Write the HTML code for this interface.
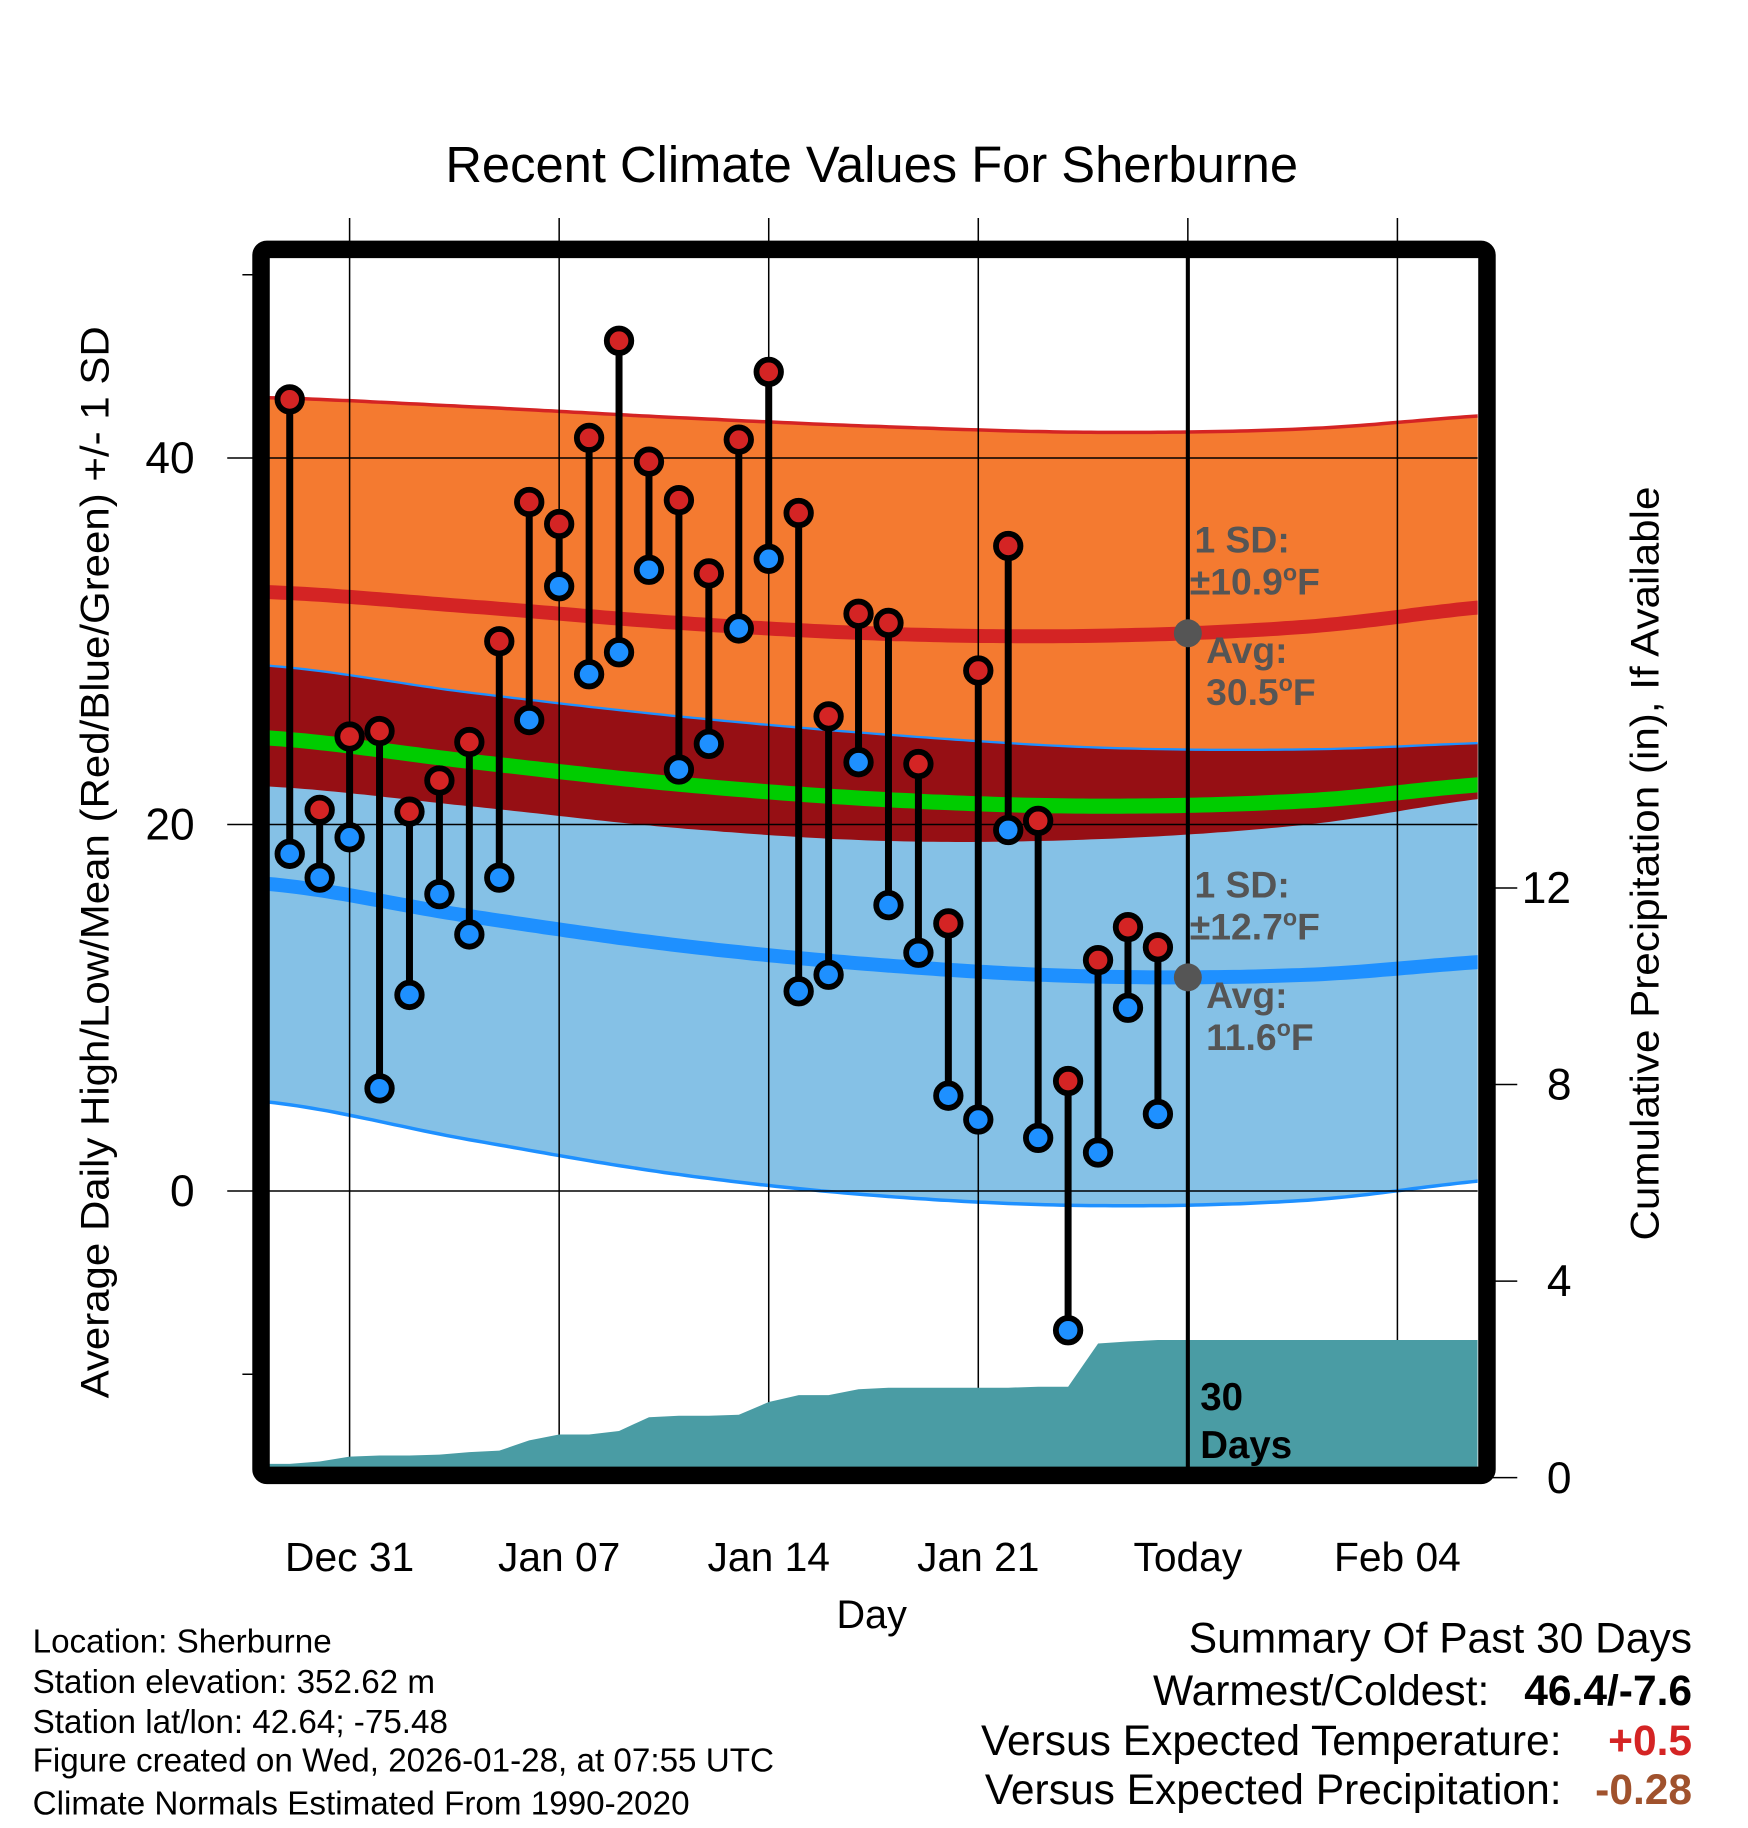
<!DOCTYPE html>
<html><head><meta charset="utf-8"><style>
html,body{margin:0;padding:0;background:#fff}
svg{display:block;font-family:"Liberation Sans",Arial,sans-serif}
</style></head><body>
<svg id="chart" width="1748" height="1828" viewBox="0 0 1500 1568.6" xmlns="http://www.w3.org/2000/svg">
<defs><clipPath id="plotclip"><rect x="231" y="221" width="1037" height="1038"/></clipPath></defs>
<rect width="1500" height="1569" fill="#fff"/>
<text x="748" y="156" font-size="43.5" text-anchor="middle">Recent Climate Values For Sherburne</text>
<g id="bands" clip-path="url(#plotclip)"></g>
<g id="grid"></g>
<g id="precip" clip-path="url(#plotclip)"></g>
<g id="marks"></g>
<g id="labels"></g>
<rect x="224" y="214" width="1052" height="1052" rx="5" fill="none" stroke="#000" stroke-width="15"/>
<text transform="translate(93,740) rotate(-90)" font-size="34" text-anchor="middle" textLength="920" lengthAdjust="spacingAndGlyphs">Average Daily High/Low/Mean (Red/Blue/Green) +/- 1 SD</text>
<text transform="translate(1423,741) rotate(-90)" font-size="34" text-anchor="middle" textLength="647" lengthAdjust="spacingAndGlyphs">Cumulative Precipitation (in), If Available</text>
<text x="748" y="1397" font-size="34" text-anchor="middle">Day</text>
<g font-size="28.5">
<text x="28" y="1418">Location: Sherburne</text>
<text x="28" y="1453">Station elevation: 352.62 m</text>
<text x="28" y="1487">Station lat/lon: 42.64; -75.48</text>
<text x="28" y="1520">Figure created on Wed, 2026-01-28, at 07:55 UTC</text>
<text x="28" y="1557">Climate Normals Estimated From 1990-2020</text>
</g>
<g font-size="36.5" text-anchor="end">
<text x="1452" y="1418">Summary Of Past 30 Days</text>
<text x="1278" y="1463">Warmest/Coldest:</text>
<text x="1452" y="1463" font-weight="bold">46.4/-7.6</text>
<text x="1340" y="1506">Versus Expected Temperature:</text>
<text x="1452" y="1506" font-weight="bold" fill="#d42424">+0.5</text>
<text x="1340" y="1548">Versus Expected Precipitation:</text>
<text x="1452" y="1548" font-weight="bold" fill="#a0522d">-0.28</text>
</g>
</svg>
<script>
const highs=[43.2,20.8,24.8,25.1,20.7,22.4,24.5,30.0,37.6,36.4,41.1,46.4,39.8,37.7,33.7,41.0,44.7,37.0,25.9,31.5,31.0,23.3,14.6,28.4,35.2,20.2,6.0,12.6,14.4,13.3];
const lows=[18.4,17.1,19.3,5.6,10.7,16.2,14.0,17.1,25.7,33.0,28.2,29.4,33.9,23.0,24.4,30.7,34.5,10.9,11.8,23.4,15.6,13.0,5.2,3.9,19.7,2.9,-7.6,2.1,10.0,4.2];
const precip=[0.28,0.33,0.43,0.45,0.45,0.47,0.52,0.55,0.76,0.88,0.88,0.95,1.23,1.26,1.26,1.28,1.54,1.68,1.68,1.80,1.83,1.83,1.83,1.83,1.83,1.85,1.85,2.73,2.77,2.80];
const firstDay=-2; // Dec 29 relative to Dec 31
const normDays=[-3,4,11,18,25,32,39];
const highMean=[32.7,31.9,31.0,30.4,30.3,30.8,32.0];
const highSD=[10.6,10.9,11.2,11.3,11.1,10.8,10.4];
const lowMean=[16.8,15.0,13.4,12.3,11.7,11.8,12.6];
const lowSD=[11.9,12.2,12.5,12.6,12.5,12.3,11.9];
const xTickDays=[0,7,14,21,28,35];
const xTickLabels=["Dec 31","Jan 07","Jan 14","Jan 21","Today","Feb 04"];
const yTicks=[0,20,40];
const yMinor=[-10,50];
const y2Ticks=[0,4,8,12];

const NS="http://www.w3.org/2000/svg";
const X=d=>300+d*25.69;
const Y=v=>1022-v*15.725;
const P=p=>1268-p*42.17;
function el(tag,attrs,parent){const e=document.createElementNS(NS,tag);for(const k in attrs)e.setAttribute(k,attrs[k]);parent.appendChild(e);return e;}
function interp(arr,d){
  let i=0;while(i<normDays.length-2&&d>normDays[i+1])i++;
  const t=(d-normDays[i])/(normDays[i+1]-normDays[i]);
  const p0=arr[Math.max(i-1,0)],p1=arr[i],p2=arr[i+1],p3=arr[Math.min(i+2,arr.length-1)];
  return 0.5*((2*p1)+(-p0+p2)*t+(2*p0-5*p1+4*p2-p3)*t*t+(-p0+3*p1-3*p2+p3)*t*t*t);
}
const ds=[];for(let d=-3;d<=39;d+=0.25)ds.push(d);
const curve=f=>ds.map(d=>[X(d),Y(f(d))]);
const hm=d=>interp(highMean,d),hs=d=>interp(highSD,d),lm=d=>interp(lowMean,d),ls=d=>interp(lowSD,d);
const hTop=curve(d=>hm(d)+hs(d)),hBot=curve(d=>hm(d)-hs(d)),lTop=curve(d=>lm(d)+ls(d)),lBot=curve(d=>lm(d)-ls(d));
const pts=a=>a.map(p=>p[0].toFixed(1)+","+p[1].toFixed(1)).join(" ");
const bands=document.getElementById('bands');
let e;
e=el('polygon',{points:pts(hTop)+" "+pts(hBot.slice().reverse()),fill:"#f47a30"},bands);


e=el('polygon',{points:pts(lTop)+" "+pts(lBot.slice().reverse()),fill:"#85c1e6"},bands);


e=el('polygon',{points:pts(lTop)+" "+pts(hBot.slice().reverse()),fill:"#960f14"},bands);


e=el('polyline',{points:pts(hTop),fill:"none",stroke:"#d42424","stroke-width":3},bands);


e=el('polyline',{points:pts(lTop),fill:"none",stroke:"#1e90ff","stroke-width":2},bands);


e=el('polyline',{points:pts(lBot),fill:"none",stroke:"#1e90ff","stroke-width":3},bands);


e=el('polyline',{points:pts(curve(hm)),fill:"none",stroke:"#d42424","stroke-width":12},bands);


e=el('polyline',{points:pts(curve(lm)),fill:"none",stroke:"#1e90ff","stroke-width":12},bands);


e=el('polyline',{points:pts(curve(d=>(hm(d)+lm(d))/2)),fill:"none",stroke:"#00cc00","stroke-width":13},bands);



const grid=document.getElementById('grid');
const labels=document.getElementById('labels');
xTickDays.forEach((d,i)=>{
  e=el('line',{x1:X(d),x2:X(d),y1:187,y2:1259,stroke:"#000","stroke-width":1.3},grid);
  
  
  e=el('text',{x:X(d),y:1348,"font-size":35,"text-anchor":"middle"},labels);e.textContent=xTickLabels[i];
  
  
});
yTicks.forEach(v=>{
  e=el('line',{x1:195,x2:1268,y1:Y(v),y2:Y(v),stroke:"#000","stroke-width":1.3},grid);
  
  
  e=el('text',{x:167,y:Y(v)+13,"font-size":38,"text-anchor":"end"},labels);e.textContent=v;
  
  
});
yMinor.forEach(v=>{
  e=el('line',{x1:208,x2:220,y1:Y(v),y2:Y(v),stroke:"#000","stroke-width":1.3},grid);
  
  
});
y2Ticks.forEach(p=>{
  e=el('line',{x1:1280,x2:1302,y1:P(p),y2:P(p),stroke:"#000","stroke-width":1.3},grid);
  
  
  e=el('text',{x:p>=10?1327:1338,y:P(p)+13,"font-size":38,"text-anchor":"middle"},labels);e.textContent=p;
  
  
});

const pg=document.getElementById('precip');
let pp=[[231,P(0)],[231,P(precip[0])]];
precip.forEach((p,i)=>pp.push([X(firstDay+i),P(p)]));
pp.push([1268,P(precip[precip.length-1])],[1268,P(0)]);
e=el('polygon',{points:pts(pp),fill:"#4a9ca4"},pg);



const marks=document.getElementById('marks');
highs.forEach((h,i)=>{
  const x=X(firstDay+i);
  e=el('line',{x1:x,x2:x,y1:Y(h),y2:Y(lows[i]),stroke:"#000","stroke-width":6},marks);
  
  
});
highs.forEach((h,i)=>{
  const x=X(firstDay+i);
  e=el('circle',{cx:x,cy:Y(lows[i]),r:10.5,fill:"#1e90ff",stroke:"#000","stroke-width":5},marks);
  
  
  e=el('circle',{cx:x,cy:Y(h),r:10.5,fill:"#d42424",stroke:"#000","stroke-width":5},marks);
  
  
});
e=el('line',{x1:X(28),x2:X(28),y1:221,y2:1259,stroke:"#000","stroke-width":3.5},marks);


e=el('circle',{cx:X(28),cy:Y(hm(28)),r:12,fill:"#555"},marks);


e=el('circle',{cx:X(28),cy:Y(lm(28)),r:12,fill:"#555"},marks);



function txt(x,y,s,name,fill,size){e=el('text',{x:x,y:y,"font-size":size||32,"font-weight":"bold",fill:fill||"#555"},labels);e.innerHTML=s;

}
const sup='<tspan dy="-12" font-size="20">o</tspan><tspan dy="12">F</tspan>';
txt(1025,474,"1 SD:","high-sd-label");
txt(1021,510,"±10.9"+sup,"high-sd-value");
txt(1035,569,"Avg:","high-avg-label");
txt(1035,605,"30.5"+sup,"high-avg-value");
txt(1025,770,"1 SD:","low-sd-label");
txt(1021,806,"±12.7"+sup,"low-sd-value");
txt(1035,865,"Avg:","low-avg-label");
txt(1035,901,"11.6"+sup,"low-avg-value");
txt(1030,1210,"30","days-count","#000",33);
txt(1030,1251,"Days","days-label","#000",33);
</script>
</body></html>
